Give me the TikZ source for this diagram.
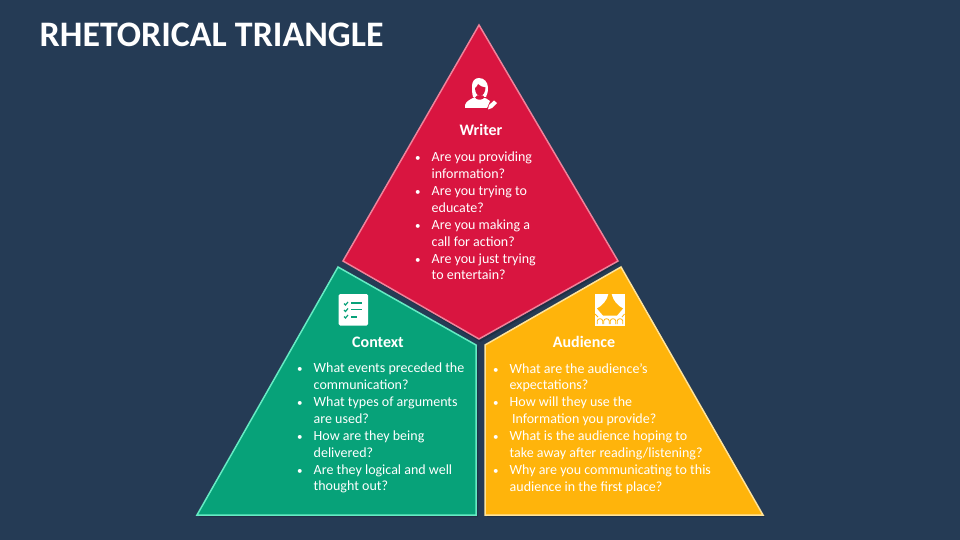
\documentclass[tikz,border=0pt]{standalone}
\usepackage{fontspec}
\setmainfont{Carlito}
\definecolor{bgc}{HTML}{253B55}
\definecolor{redc}{HTML}{D91540}
\definecolor{redl}{HTML}{F0829A}
\definecolor{greenc}{HTML}{07A279}
\definecolor{greenl}{HTML}{66EBC4}
\definecolor{yelc}{HTML}{FFB40B}
\definecolor{yell}{HTML}{FFE39A}
\newcommand{\bu}{\makebox[18pt][l]{\hspace{1.5pt}\fontsize{11pt}{11pt}\selectfont •}}
\newcommand{\nb}{\hspace*{18pt}}
\tikzset{x=1pt,y=-1pt,
 tri/.style={line width=1.5pt,line join=miter},
 head/.style={font=\fontsize{16pt}{18pt}\selectfont\bfseries,text=white,inner sep=0pt},
 listing/.style={font=\fontsize{14pt}{16.85pt}\selectfont,text=white,align=left,inner sep=0pt,anchor=north west},
 title/.style={font=\fontsize{35.9pt}{38pt}\selectfont\bfseries,text=white,inner sep=0pt,anchor=west},
 ico/.style={fill=white,draw=none}}
\begin{document}
\begin{tikzpicture}
\useasboundingbox (0,0) rectangle (960,540);
\fill[bgc] (0,0) rectangle (960,540);
\node[title] (t) at (39.5,34.6) {RHETORICAL TRIANGLE};
% shadows
\fill[black,opacity=.18] (345,263)--(479,27)--(620,263)--(480,342)--cycle;
\fill[black,opacity=.18] (340,269)--(478,347)--(478,517)--(199,517)--cycle;
\fill[black,opacity=.18] (623,269)--(487,347)--(487,517)--(765,517)--cycle;
% triangles
\draw[tri,fill=redc,draw=redl] (479,25)--(618,261)--(479,339)--(343,261)--cycle;
\draw[tri,fill=greenc,draw=greenl] (338,267)--(476,345)--(476,515)--(197,515)--cycle;
\draw[tri,fill=yelc,draw=yell] (621,267)--(763,515)--(485,515)--(485,345)--cycle;
% writer icon: body, hair, face, collar, pencil
\fill[ico] (465,108)--(465,105) .. controls (466,101) and (471,99) .. (475,97)--(482,97)
  .. controls (485,98) and (488,99) .. (490,101)--(487,108)--cycle;
\fill[ico] (479,78) .. controls (484,78) and (488,82) .. (488,88)
  .. controls (488,92) and (487,95) .. (486,97) -- (473,97)
  .. controls (472,93) and (472,90) .. (472,86) .. controls (472,81) and (475,78) .. (479,78)--cycle;
\fill[redc] (478,84) .. controls (480,86) and (482,87) .. (485.5,87.5)
  .. controls (485.5,92) and (483,96) .. (480,96) .. controls (477,96) and (475,92) .. (475,88)
  .. controls (476.5,87) and (477.5,86) .. (478,84)--cycle;
\fill[redc] (475,97.5) .. controls (477,100.5) and (482,100.5) .. (484.5,97.5) -- (483,95.5) -- (477,95.5)--cycle;
\fill[ico] (488,109.5)--(489,105)--(494,100.5)--(497,103)--(492,108)--cycle;
% context icon
\fill[ico,rounded corners=1.5pt] (338.5,294) rectangle (368,325.5);
\begin{scope}[draw=greenc,line width=1.2pt]
\draw (344,303.5)--(345.5,305)--(348,302);
\draw (344,310)--(345.5,311.5)--(348,308.5);
\draw (344,316.5)--(345.5,318)--(348,315);
\draw[line width=1.5pt] (351,302.8)--(362,302.8);
\draw[line width=1.5pt] (351,309.5)--(362,309.5);
\draw[line width=1.5pt] (351,316.8)--(357,316.8);
\end{scope}
% audience icon
\fill[ico] (595,294) rectangle (624.5,325.5);
\fill[yelc] (608.5,294) .. controls (607,301) and (602,306) .. (597,308.5)
  -- (603,315.5) -- (617,315.5) -- (623,308.5)
  .. controls (618,306) and (613,301) .. (611.5,294)--cycle;
\begin{scope}[draw=yelc,line width=.8pt]
\foreach \c in {600,606.5,613,620}{
 \draw (\c-2.8,324) -- (\c-2.8,321) .. controls (\c-2.8,318) and (\c+2.8,318) .. (\c+2.8,321) -- (\c+2.8,324);
}
\draw (595,314)--(598,317);
\draw (624.5,314)--(622,317);
\end{scope}
% headings
\node[head] (wh) at (481,129.5) {Writer};
\node[head] (ch) at (378,342) {Context};
\node[head] (ah) at (584,341.5) {Audience};
% lists
\node[listing] (wl) at (413.5,152) {\bu Are you providing\\\nb information?\\\bu Are you trying to\\\nb educate?\\\bu Are you making a\\\nb call for action?\\\bu Are you just trying\\\nb to entertain?};
\node[listing] (cl) at (295.5,363) {\bu What events preceded the\\\nb communication?\\\bu What types of arguments\\\nb are used?\\\bu How are they being\\\nb delivered?\\\bu Are they logical and well\\\nb thought out?};
\node[listing] (al) at (491.5,363) {\bu What are the audience’s\\\nb expectations?\\\bu How will they use the\\\nb \,Information you provide?\\\bu What is the audience hoping to\\\nb take away after reading/listening?\\\bu Why are you communicating to this\\\nb audience in the first place?};
\end{tikzpicture}
\end{document}
